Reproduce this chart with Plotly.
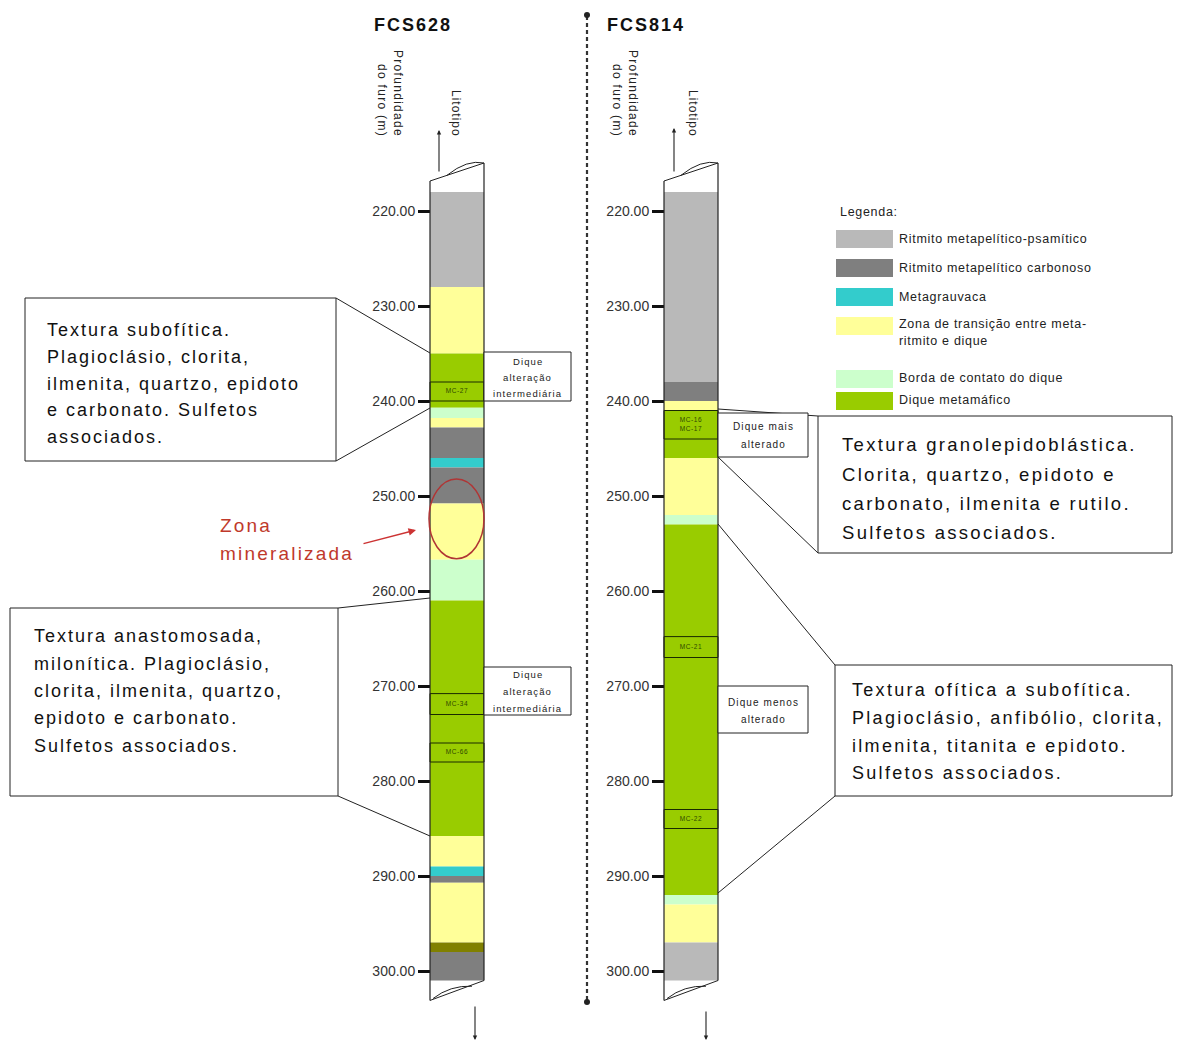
import plotly.graph_objects as go

W, H = 1179, 1043
FONT = "Liberation Sans, Arial, sans-serif"

# ---------------- data ----------------
lith_codes = ["RP", "RC", "MG", "ZT", "BD", "DM", "OL"]
lith_colors = ["#B9B9B9", "#7F7F7F", "#33CCCC", "#FFFF99", "#CCFFCC", "#99CC00", "#808000"]
legend_labels = [
    ["Ritmito metapelítico-psamítico"],
    ["Ritmito metapelítico carbonoso"],
    ["Metagrauvaca"],
    ["Zona de transição entre meta-", "ritmito e dique"],
    ["Borda de contato do dique"],
    ["Dique metamáfico"],
]

depth_ticks = [220, 230, 240, 250, 260, 270, 280, 290, 300]
depth_tick_text = ["220.00", "230.00", "240.00", "250.00", "260.00",
                   "270.00", "280.00", "290.00", "300.00"]

# FCS628 : layer boundaries (m) and lithotype of each interval
fcs628_bounds = [218, 228, 235, 240.7, 241.8, 242.8, 246, 247, 250.8, 256.7,
                 261, 285.8, 289, 290, 290.7, 297, 298, 301]
fcs628_lith = ["RP", "ZT", "DM", "BD", "ZT", "RC", "MG", "RC", "ZT", "BD",
               "DM", "ZT", "MG", "RC", "ZT", "OL", "RC"]
fcs628_samples = ["MC-27", "MC-34", "MC-66"]
fcs628_sample_top = [238, 270.8, 276]
fcs628_sample_base = [240, 273, 278]

# FCS814
fcs814_bounds = [218, 238, 240, 241, 246, 252, 253, 292, 293, 297, 301]
fcs814_lith = ["RP", "RC", "ZT", "DM", "ZT", "BD", "DM", "BD", "ZT", "RP"]
fcs814_samples = ["MC-16<br>MC-17", "MC-21", "MC-22"]
fcs814_sample_top = [241, 264.8, 283]
fcs814_sample_base = [244, 267, 285]

# mineralized zone (ellipse) depth span
mineral_zone = [248.2, 256.6]

# ---------------- helpers ----------------
PX220, PPM = 211, 9.5


def dep(py):
    """pixel row -> depth (for layout decorations)"""
    return 220 + (py - PX220) / PPM


color_of = dict(zip(lith_codes, lith_colors))
fig = go.Figure()


def sp(s, ls):
    if not ls:
        return s
    return "<br>".join(f'<span style="letter-spacing:{ls}px">{p}</span>' for p in s.split("<br>"))


def txt(x, py, s, size=18, color="#111", xanchor="left", ls=2.0, angle=0, align="left", yanchor="middle"):
    fig.add_annotation(x=x, y=dep(py), xref="x", yref="y", text=sp(s, ls), showarrow=False,
                       xanchor=xanchor, yanchor=yanchor, align=align, textangle=angle,
                       font=dict(size=size, color=color, family=FONT))


def line(x0, py0, x1, py1, color="#222", width=1, dash=None):
    fig.add_shape(type="line", x0=x0, y0=dep(py0), x1=x1, y1=dep(py1), xref="x", yref="y",
                  line=dict(color=color, width=width, dash=dash))


def rect(x0, py0, x1, py1, color="#222", width=1, fill="white"):
    fig.add_shape(type="rect", x0=x0, y0=dep(py0), x1=x1, y1=dep(py1), xref="x", yref="y",
                  line=dict(color=color, width=width), fillcolor=fill)


def add_column(bounds, liths, names, s_top, s_base, x0, x1, yaxis):
    cx, cw = (x0 + x1) / 2, x1 - x0
    tops = bounds[:-1]
    thick = [b - t for t, b in zip(bounds[:-1], bounds[1:])]
    fig.add_trace(go.Bar(x=[cx] * len(tops), y=thick, base=tops, width=[cw] * len(tops),
                         marker=dict(color=[color_of[c] for c in liths], line=dict(width=0)),
                         yaxis=yaxis, showlegend=False, hoverinfo="skip"))
    fig.add_trace(go.Bar(x=[cx] * len(names), y=[b - t for t, b in zip(s_top, s_base)], base=s_top,
                         width=[cw] * len(names),
                         marker=dict(color="rgba(0,0,0,0)", line=dict(color="#1a2a00", width=1)),
                         yaxis=yaxis, showlegend=False, hoverinfo="skip"))
    fig.add_trace(go.Scatter(x=[cx] * len(names), y=[(t + b) / 2 for t, b in zip(s_top, s_base)],
                             text=[sp(n, 0.6) for n in names], mode="text", yaxis=yaxis,
                             textfont=dict(size=6.5, color="#2f4a00", family=FONT),
                             showlegend=False, hoverinfo="skip"))
    # cylinder outline
    top_l, top_r = dep(PX220 + (bounds[0] - 220) * PPM - 11), dep(PX220 + (bounds[0] - 220) * PPM - 29)
    bot_l, bot_r = bounds[-1] + 2.1, bounds[-1]
    fig.add_shape(type="line", x0=x0, x1=x0, y0=top_l, y1=bot_l, line=dict(color="#222", width=1.2))
    fig.add_shape(type="line", x0=x1, x1=x1, y0=top_r, y1=bot_r, line=dict(color="#222", width=1.2))
    fig.add_shape(type="line", x0=x0, x1=x1, y0=top_l, y1=top_r, line=dict(color="#222", width=1))
    fig.add_shape(type="line", x0=x0, x1=x1, y0=bot_l, y1=bot_r, line=dict(color="#222", width=1))
    # lens on caps
    fig.add_shape(type="path", path=f"M {x0+17},{top_l-0.6} Q {x0+37},{top_r-0.4} {x1},{top_r}",
                  line=dict(color="#222", width=1))
    fig.add_shape(type="path", path=f"M {x0+3},{bot_l-0.2} Q {x0+20},{bot_l-1.6} {x0+42},{bot_l-1.5}",
                  line=dict(color="#222", width=1))


add_column(fcs628_bounds, fcs628_lith, fcs628_samples, fcs628_sample_top, fcs628_sample_base, 430, 484, "y")
add_column(fcs814_bounds, fcs814_lith, fcs814_samples, fcs814_sample_top, fcs814_sample_base, 664, 718, "y2")

# mineralized zone ellipse
fig.add_shape(type="circle", x0=429, x1=484, y0=mineral_zone[0], y1=mineral_zone[1],
              line=dict(color="#B03535", width=1.5))

# separator dotted line
fig.add_shape(type="line", x0=587, x1=587, y0=dep(16), y1=dep(1001),
              line=dict(color="#333", width=2.2, dash="4px,3px"))
for py in (15, 1002):
    fig.add_shape(type="circle", x0=584, x1=590, y0=dep(py - 3), y1=dep(py + 3),
                  fillcolor="#222", line=dict(color="#222", width=0))

# ---------- description boxes and connectors ----------
line(336, 298, 430, 353)
line(336, 461, 430, 408)
rect(25, 298, 336, 461)
for t, py in zip(["Textura subofítica.", "Plagioclásio, clorita,", "ilmenita, quartzo, epidoto",
                  "e carbonato. Sulfetos", "associados."], [330, 357, 384, 410, 437]):
    txt(45, py, t)

line(338, 608, 430, 598)
line(338, 796, 430, 836)
rect(10, 608, 338, 796)
for t, py in zip(["Textura anastomosada,", "milonítica. Plagioclásio,", "clorita, ilmenita, quartzo,",
                  "epidoto e carbonato.", "Sulfetos associados."], [636, 664, 691, 718, 746]):
    txt(32, py, t)

line(718, 409, 818, 416)
line(718, 457, 818, 553)
rect(818, 416, 1172, 553)
for t, py in zip(["Textura granolepidoblástica.", "Clorita, quartzo, epidoto e",
                  "carbonato, ilmenita e rutilo.", "Sulfetos associados."], [444, 474, 503, 532]):
    txt(840, py, t, size=18.5, ls=2.3)

line(718, 524, 835, 665)
line(718, 893, 835, 796)
rect(835, 665, 1172, 796)
for t, py in zip(["Textura ofítica a subofítica.", "Plagioclásio, anfibólio, clorita,",
                  "ilmenita, titanita e epidoto.", "Sulfetos associados."], [690, 718, 746, 773]):
    txt(850, py, t, size=18, ls=2.3)

# ---------- dique alteration boxes ----------
rect(484, 352, 571, 401, width=1)
for t, py in zip(["Dique", "alteração", "intermediária"], [361, 377, 393]):
    txt(527.5, py, t, size=9.5, xanchor="center", ls=1.1, color="#222")
rect(484, 667, 571, 715, width=1)
for t, py in zip(["Dique", "alteração", "intermediária"], [674, 691, 708]):
    txt(527.5, py, t, size=9.5, xanchor="center", ls=1.1, color="#222")
rect(718, 413, 808, 457, width=1)
for t, py in zip(["Dique mais", "alterado"], [426, 444]):
    txt(763, py, t, size=10, xanchor="center", ls=1.1, color="#222")
rect(718, 686, 808, 733, width=1)
for t, py in zip(["Dique menos", "alterado"], [702, 719]):
    txt(763, py, t, size=10, xanchor="center", ls=1.1, color="#222")

# ---------- mineralized zone label ----------
txt(218, 525, "Zona", size=19, color="#C0392B", ls=2.2)
txt(218, 553, "mineralizada", size=19, color="#C0392B", ls=2.2)
fig.add_annotation(x=416, y=dep(530), ax=362, ay=dep(544), xref="x", yref="y", axref="x", ayref="y",
                   text="", showarrow=True, arrowhead=2, arrowsize=1, arrowwidth=1.5, arrowcolor="#CC3333")

# ---------- headers and column labels ----------
txt(372, 25, "<b>FCS628</b>", size=18, ls=2)
txt(605, 25, "<b>FCS814</b>", size=18, ls=2)
for cx_p, cx_l in ((390, 456), (625, 693)):
    txt(cx_p, 93, "Profundidade<br>do furo (m)", size=12, ls=1.3, angle=90, xanchor="center",
        align="right", color="#222")
    txt(cx_l, 113, "Litotipo", size=12, ls=1.0, angle=90, xanchor="center", color="#222")

for x, py_head, py_tail in ((439, 130, 173), (674, 128, 173), (475, 1040, 1005), (706, 1040, 1010)):
    fig.add_annotation(x=x, y=dep(py_head), ax=x, ay=dep(py_tail), xref="x", yref="y", axref="x", ayref="y",
                       text="", showarrow=True, arrowhead=2, arrowsize=0.8, arrowwidth=1.1, arrowcolor="#222")

# ---------- legend ----------
txt(838, 212, "Legenda:", size=12.5, ls=0.7, color="#222")
sw_rows = [(230, 248), (259, 277), (288, 306), (317, 335), (370, 388), (392, 410)]
text_rows = [[239], [268], [297], [324, 341], [378], [400]]
for col, (a, b), labs, ys in zip(lith_colors[:6], sw_rows, legend_labels, text_rows):
    fig.add_shape(type="rect", x0=836, x1=893, y0=dep(a), y1=dep(b), xref="x", yref="y",
                  fillcolor=col, line=dict(width=0))
    for lab, py in zip(labs, ys):
        txt(897, py, lab, size=12.5, ls=0.7, color="#222")

# ---------- axes ----------
axis_common = dict(range=[dep(H), dep(0)], tickmode="array", tickvals=depth_ticks, ticktext=depth_tick_text,
                   ticks="outside", ticklen=12, tickwidth=2.5, tickcolor="#111", showgrid=False,
                   zeroline=False, showline=False, anchor="free", side="left", fixedrange=True,
                   tickfont=dict(size=14, color="#333", family=FONT))
fig.update_layout(
    width=W, height=H, margin=dict(l=0, r=0, t=0, b=0),
    paper_bgcolor="white", plot_bgcolor="white", barmode="overlay", showlegend=False,
    xaxis=dict(range=[0, W], visible=False, fixedrange=True, domain=[0, 1]),
    yaxis=dict(**axis_common, position=430 / W),
    yaxis2=dict(**axis_common, position=664 / W, overlaying="y", matches="y"),
    font=dict(family=FONT),
)

fig.write_html("out.html", config={"displayModeBar": False},
               post_script="document.body.style.margin='0';document.body.style.padding='0';")
